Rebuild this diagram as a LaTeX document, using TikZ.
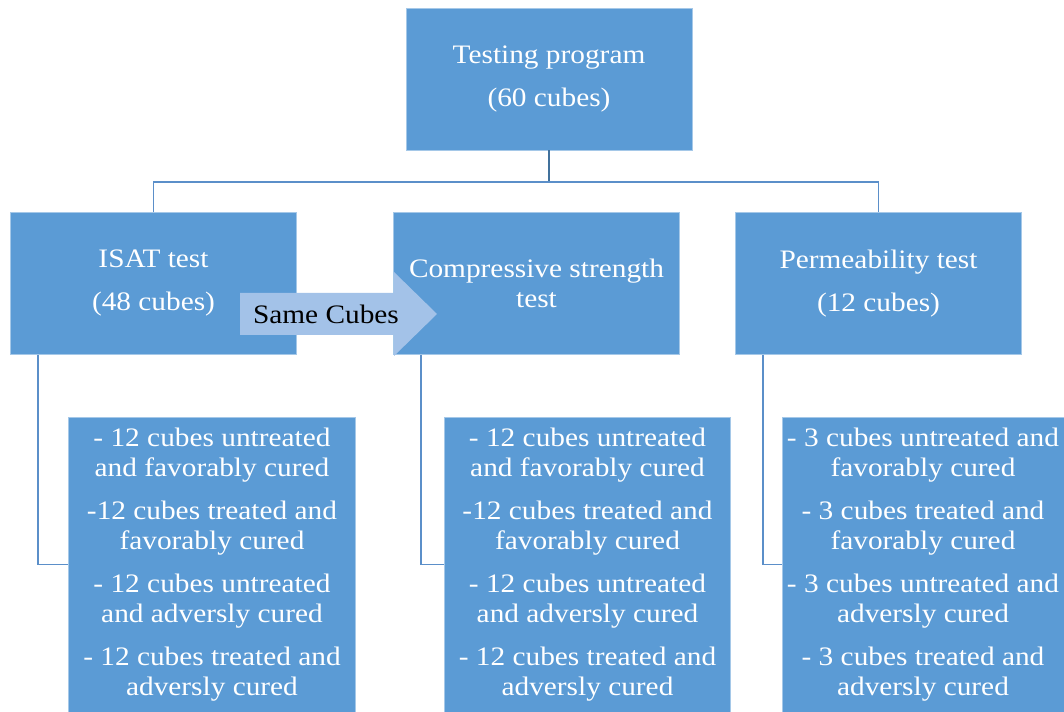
\documentclass[tikz,border=0pt]{standalone}
\usepackage{fontspec}
\setmainfont{Liberation Serif}[FakeStretch=1.1]
\definecolor{boxblue}{HTML}{5B9BD5}
\definecolor{linkblue}{HTML}{5B8FC9}
\definecolor{trunkblue}{HTML}{41719C}
\definecolor{arrowblue}{HTML}{A3C2E8}
\tikzset{
  boxfont/.style={font=\fontsize{20pt}{22.5pt}\selectfont},
  testbox/.style={boxfont,fill=boxblue,draw=boxblue!55!white,line width=0.6pt,text=white,align=center,inner sep=0pt,minimum width=214.5pt,minimum height=106.5pt},
  listbox/.style={testbox,minimum width=215pt,minimum height=221.25pt},
  link/.style={draw=linkblue,line width=1.1pt},
}

\begin{document}
\begin{tikzpicture}[x=0.75pt,y=-0.75pt]
\useasboundingbox (0,0) rectangle (1064,712);
% top level
\node[testbox] (prog) at (549,79) {Testing program\\[9.75pt](60 cubes)};
% tests
\node[testbox] (isat) at (153.5,283.5) {ISAT test\\[9.75pt](48 cubes)};
\node[testbox] (comp) at (536.5,283.5) {Compressive strength\\test};
\node[testbox] (perm) at (878.5,283.5) {Permeability test\\[9.75pt](12 cubes)};
% cube groups
\node[listbox] (isatsub) at (212,564.5) {- 12 cubes untreated\\and favorably cured\\[9.75pt]-12 cubes treated and\\favorably cured\\[9.75pt]- 12 cubes untreated\\and adversly cured\\[9.75pt]- 12 cubes treated and\\adversly cured};
\node[listbox] (compsub) at (587.5,564.5) {- 12 cubes untreated\\and favorably cured\\[9.75pt]-12 cubes treated and\\favorably cured\\[9.75pt]- 12 cubes untreated\\and adversly cured\\[9.75pt]- 12 cubes treated and\\adversly cured};
\node[listbox,minimum width=211.5pt] (permsub) at (923,564.5) {- 3 cubes untreated and\\favorably cured\\[9.75pt]- 3 cubes treated and\\favorably cured\\[9.75pt]- 3 cubes untreated and\\adversly cured\\[9.75pt]- 3 cubes treated and\\adversly cured};
% connectors
\coordinate (bus) at (549,182);
\draw[link,draw=trunkblue] (prog.south) -- (bus);
\draw[link] (isat.north) |- (bus) -| (perm.north);
\draw[link] ([xshift=21pt]isat.south west) |- (isatsub.west);
\draw[link] ([xshift=21pt]comp.south west) |- (compsub.west);
\draw[link] ([xshift=21pt]perm.south west) |- (permsub.west);
% same cubes arrow
\fill[arrowblue] (240,293) -- (394,293) -- (394,272) -- (437,314) -- (394,356) -- (394,335) -- (240,335) -- cycle;
\node[boxfont] (same) at (326,314) {Same Cubes};
\end{tikzpicture}
\end{document}
